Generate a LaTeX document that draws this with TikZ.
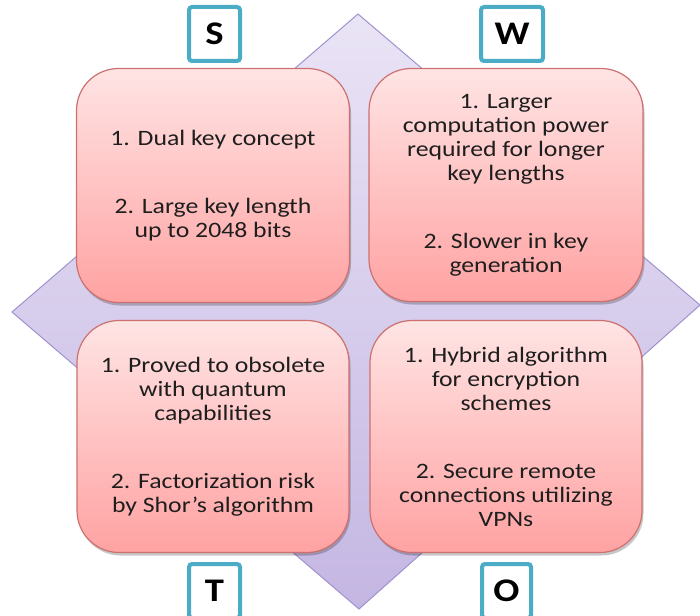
\documentclass[tikz,border=0pt]{standalone}
\usepackage{fontspec}
\setmainfont[FakeStretch=1.17]{Carlito}
\usetikzlibrary{shadows}
\definecolor{dtop}{RGB}{234,228,246}
\definecolor{dbot}{RGB}{196,182,226}
\definecolor{dline}{RGB}{160,146,206}
\definecolor{ptop}{RGB}{255,228,228}
\definecolor{pbot}{RGB}{255,162,162}
\definecolor{pline}{RGB}{205,112,112}
\definecolor{teal}{RGB}{75,172,198}
\definecolor{txt}{RGB}{30,30,30}
\tikzset{
  pinkbox/.style={rounded corners=42pt, draw=pline, line width=1.2pt,
    top color=ptop, bottom color=pbot, align=center, text=txt,
    font=\fontsize{22}{24}\selectfont, inner sep=0pt,
    drop shadow={opacity=0.22, shadow xshift=1.5pt, shadow yshift=-3pt, fill=black}},
  letterbox/.style={draw=teal, line width=4pt, fill=white, rounded corners=3pt,
    minimum height=54pt, inner sep=0pt, font=\fontsize{33}{33}\selectfont\bfseries, text=black},
}
\begin{document}
\begin{tikzpicture}[x=1pt,y=-1pt]
\useasboundingbox (0,0) rectangle (700,615);
\clip (0,0) rectangle (700,615);
% diamond
\coordinate (dt) at (358,14);
\coordinate (dr) at (700,305);
\coordinate (db) at (359,609);
\coordinate (dl) at (12,312);
\draw[dline, line width=1pt, top color=dtop, bottom color=dbot] (dt) -- (dr) -- (db) -- (dl) -- cycle;
% pink boxes
\node[pinkbox, minimum width=273pt, minimum height=234pt] (s) at (213,185.5)
  {1. Dual key concept\\[44pt]2. Large key length\\up to 2048 bits};
\node[pinkbox, minimum width=274pt, minimum height=233pt] (w) at (506,185)
  {1. Larger\\computation power\\required for longer\\key lengths\\[44pt]2. Slower in key\\generation};
\node[pinkbox, minimum width=272pt, minimum height=232pt] (t) at (213,436.5)
  {1. Proved to obsolete\\with quantum\\capabilities\\[44pt]2. Factorization risk\\by Shor’s algorithm};
\node[pinkbox, minimum width=272pt, minimum height=232pt] (o) at (506,436.5)
  {1. Hybrid algorithm\\for encryption\\schemes\\[44pt]2. Secure remote\\connections utilizing\\VPNs};
% letter boxes
\node[letterbox, minimum width=51pt] (ls) at (214.5,34) {S};
\node[letterbox, minimum width=62pt] (lw) at (512,34) {W};
\node[letterbox, minimum width=51pt] (lt) at (214.5,591) {T};
\node[letterbox, minimum width=49pt] (lo) at (506.5,591) {O};
\end{tikzpicture}
\end{document}
